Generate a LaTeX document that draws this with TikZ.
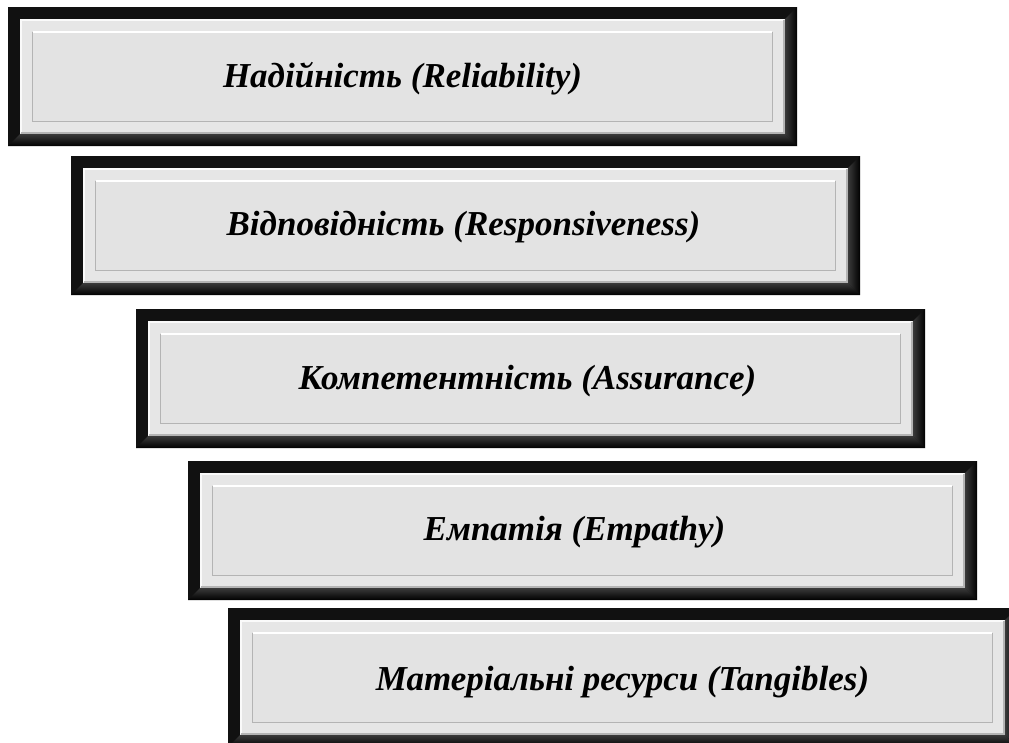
\documentclass[tikz,border=0pt]{standalone}
\usepackage{fontspec}
\setmainfont{Liberation Serif}
\definecolor{frameblk}{HTML}{111111}
\definecolor{framegray}{HTML}{3A3A3A}
\definecolor{lightarea}{HTML}{E6E6E6}
\definecolor{panel}{HTML}{E3E3E3}
\definecolor{edgegray}{HTML}{B4B4B4}
\definecolor{hilite}{HTML}{FAFAFA}
\tikzset{
  boxlabel/.style={font=\fontsize{35}{38}\selectfont\bfseries\itshape, text=black, inner sep=0pt},
}
\newcommand\bevbox[6]{%
  \begin{scope}[shift={(#2,#3)}]
    \fill[frameblk] (0,0) rectangle (789,139);
    \shade[top color=framegray, bottom color=black] (0,139) -- (789,139) -- (777,127) -- (12,127) -- cycle;
    \shade[left color=framegray, right color=black] (789,0) -- (789,139) -- (777,127) -- (777,12) -- cycle;
    \fill[lightarea] (12,12) rectangle (777,127);
    \draw[hilite, line width=1.5pt] (13,126) -- (13,13) -- (776,13);
    \draw[edgegray, line width=1.5pt] (13,126) -- (776,126) -- (776,13);
    \fill[panel] (24,24) rectangle (765,115);
    \draw[edgegray, line width=1.5pt] (24.5,24.5) -- (24.5,114.5) -- (764.5,114.5) -- (764.5,24.5);
    \draw[white, line width=2pt] (25,25) -- (764,25);
    \node[boxlabel] (#1) at ({394.5+#5},{70.5+#6}) {#4};
  \end{scope}}
\begin{document}
\begin{tikzpicture}[x=1pt,y=-1pt]
  \useasboundingbox (0,0) rectangle (1009,742);
  \begin{scope}
    \clip (0,0) rectangle (1009,742);
    \bevbox{b1}{8}{7}{Надійність (Reliability)}{0}{1}
    \bevbox{b2}{71}{156}{Відповідність (Responsiveness)}{-2}{1}
    \bevbox{b3}{136}{309}{Компетентність (Assurance)}{-3}{2}
    \bevbox{b4}{188}{461}{Емпатія (Empathy)}{-8}{1}
    \bevbox{b5}{228}{608}{Матеріальні ресурси (Tangibles)}{0}{4}
  \end{scope}
\end{tikzpicture}
\end{document}
